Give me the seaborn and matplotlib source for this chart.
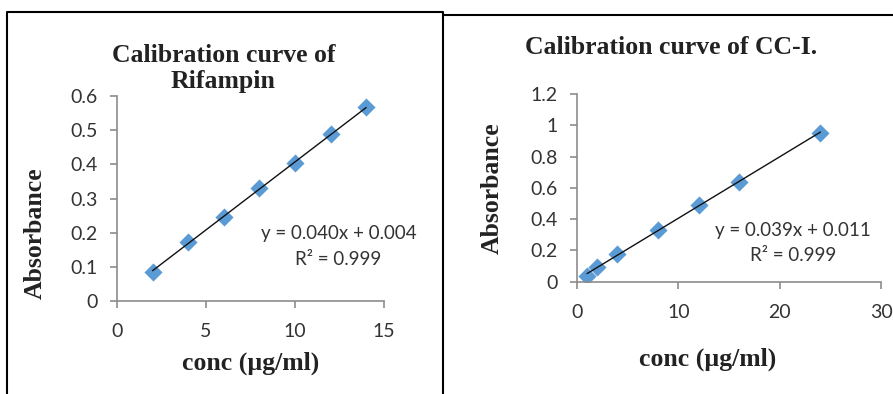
import matplotlib
matplotlib.use("Agg")
import matplotlib.pyplot as plt
import seaborn as sns
import pandas as pd
from matplotlib.lines import Line2D

# Datos
conc_rif = [2, 4, 6, 8, 10, 12, 14]
abs_rif = [0.085, 0.174, 0.247, 0.330, 0.403, 0.488, 0.567]

conc_cc = [1, 2, 4, 8, 12, 16, 24]
abs_cc = [0.036, 0.096, 0.177, 0.331, 0.491, 0.640, 0.954]

titles = ["Calibration curve of\nRifampin", "Calibration curve of CC-I."]
eqs = ["y = 0.040x + 0.004\nR² = 0.999", "y = 0.039x + 0.011\nR² = 0.999"]

sns.set_style("white")
plt.rcParams['font.family'] = ['Lato', 'DejaVu Sans']

fig = plt.figure(figsize=(8.93, 3.94), dpi=100)
ax1 = fig.add_axes([0.131, 0.236, 0.299, 0.520])
ax2 = fig.add_axes([0.646, 0.285, 0.341, 0.476])

blue = "#5B9BD5"
serif = ['Liberation Serif', 'DejaVu Serif']

panels = [
    (ax1, conc_rif, abs_rif, (0, 15), [0, 5, 10, 15], (0, 0.6), [0, 0.1, 0.2, 0.3, 0.4, 0.5, 0.6]),
    (ax2, conc_cc, abs_cc, (0, 30), [0, 10, 20, 30], (0, 1.2), [0, 0.2, 0.4, 0.6, 0.8, 1, 1.2]),
]

for i, (ax, x, y, xl, xt, yl, yt) in enumerate(panels):
    df = pd.DataFrame({"conc": x, "abs": y})
    sns.scatterplot(data=df, x="conc", y="abs", ax=ax, marker="D", s=85, color=blue,
                    edgecolor=blue, linewidth=0, zorder=2)
    sns.regplot(data=df, x="conc", y="abs", ax=ax, ci=None, scatter=False, truncate=True,
                line_kws={"color": "#111111", "lw": 1.0, "zorder": 3})
    ax.set_xlim(*xl)
    ax.set_ylim(*yl)
    ax.set_xticks(xt)
    ax.set_yticks(yt)
    ax.set_yticklabels([f"{v:g}" for v in yt])
    for s in ["top", "right"]:
        ax.spines[s].set_visible(False)
    for s in ["left", "bottom"]:
        ax.spines[s].set_color("#8c8c8c")
        ax.spines[s].set_linewidth(1.2)
    ax.tick_params(axis="both", which="major", direction="out", length=5, width=1.2,
                   color="#8c8c8c", labelsize=14, labelcolor="#333333", bottom=True, left=True)
    ax.tick_params(axis="y", pad=9)
    ax.tick_params(axis="x", pad=11)
    ax.set_xlabel("conc (µg/ml)", family=serif, fontweight="bold", fontsize=18.5, color="#222222")
    ax.set_ylabel("Absorbance", family=serif, fontweight="bold", fontsize=18.5, color="#222222")
    ax.grid(False)

ax1.xaxis.labelpad = 8
ax1.yaxis.labelpad = 17
ax1.yaxis.label.set_y(0.33)
ax2.xaxis.labelpad = 19
ax2.xaxis.label.set_x(0.43)
ax2.yaxis.labelpad = 19

ax1.text(0.83, 0.266, eqs[0], transform=ax1.transAxes, ha="center", va="center",
         fontsize=13.5, color="#333333", linespacing=1.6)
ax2.text(0.71, 0.206, eqs[1], transform=ax2.transAxes, ha="center", va="center",
         fontsize=13.5, color="#333333", linespacing=1.6)

fig.text(0.250, 0.826, titles[0], ha="center", va="center", family=serif, fontweight="bold",
         fontsize=18.5, color="#222222", linespacing=1.15)
fig.text(0.752, 0.880, titles[1], ha="center", va="center", family=serif, fontweight="bold",
         fontsize=18.5, color="#222222")

# marcos de los paneles
fig.add_artist(Line2D([0.008, 0.008, 0.496, 0.496], [0.0, 0.970, 0.970, 0.0],
                      transform=fig.transFigure, color="black", lw=1.5))
fig.add_artist(Line2D([0.496, 1.0], [0.962, 0.962], transform=fig.transFigure, color="black", lw=1.5))

fig.savefig("out.png", dpi=100)
